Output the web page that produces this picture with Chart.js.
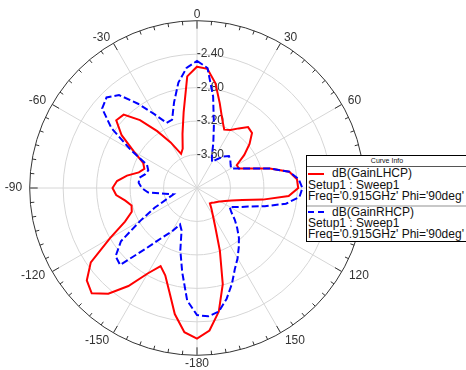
<!DOCTYPE html>
<html>
<head>
<meta charset="utf-8">
<script src="https://cdn.jsdelivr.net/npm/chart.js@4/dist/chart.umd.min.js"></script>
<style>
  html, body { margin: 0; padding: 0; background: #fff; width: 466px; height: 370px; overflow: hidden; }
  #wrap { position: absolute; left: 0; top: 0; width: 394px; height: 370px; }
  #info {
    position: absolute; left: 306px; top: 155px; width: 175px; height: 85px;
    border: 1px solid #000; background: #fff;
    font-family: "Liberation Sans", Arial, sans-serif; color: #111;
  }
  #info .hdr { position: absolute; left: 0; top: 0; width: 160px; text-align: center; font-size: 7px; line-height: 9px; }
  #info .rule { position: absolute; left: 0; width: 100%; }
  #info .t { position: absolute; font-size: 12px; line-height: 12px; white-space: nowrap; }
  #info svg { position: absolute; }
</style>
</head>
<body>
<div id="wrap"><canvas id="c" width="394" height="370"></canvas></div>
<div id="info">
  <div class="hdr">Curve Info</div>
  <div class="rule" style="top:10px;height:1px;background:#555;"></div>
  <svg style="left:1px;top:16px" width="18" height="4"><line x1="0" y1="2" x2="16" y2="2" stroke="#ff0000" stroke-width="2"/></svg>
  <div class="t" style="left:25px;top:11px">dB(GainLHCP)</div>
  <div class="t" style="left:1px;top:23px">Setup1 : Sweep1</div>
  <div class="t" style="left:1px;top:34px">Freq='0.915GHz' Phi='90deg'</div>
  <div class="rule" style="top:49px;height:2px;background:#c8c8c8;"></div>
  <svg style="left:1px;top:54px" width="18" height="4"><line x1="0" y1="2" x2="16" y2="2" stroke="#0000ff" stroke-width="2" stroke-dasharray="6,4"/></svg>
  <div class="t" style="left:25px;top:50px">dB(GainRHCP)</div>
  <div class="t" style="left:1px;top:61px">Setup1 : Sweep1</div>
  <div class="t" style="left:1px;top:72px">Freq='0.915GHz' Phi='90deg'</div>
</div>
<script>
// Phi angle of each sample (deg), clockwise from the top
const phiDeg = [
  0, 5, 10, 15, 20, 25, 30, 35, 40, 45, 50, 55, 60, 65, 70, 75, 80, 85,
  90, 95, 100, 105, 110, 115, 120, 125, 130, 135, 140, 145, 150, 155, 160, 165, 170, 175,
  -180, -175, -170, -165, -160, -155, -150, -145, -140, -135, -130, -125, -120, -115, -110, -105,
  -100, -95, -90, -85, -80, -75, -70, -65, -60, -55, -50, -45, -40, -35, -30, -25, -20, -15, -10, -5
];

// dB(GainLHCP)
const gainLHCP = [
  -2.55, -2.57, -2.73, -2.95, -3.12, -3.23, -3.20, -3.13, -3.05, -3.07, -3.18, -3.31, -3.45, -3.45, -3.32, -3.10, -2.88, -2.80,
  -2.79, -2.90, -3.20, -3.44, -3.56, -3.63, -3.68, -3.71, -3.73, -3.75, -3.76, -3.70, -3.62, -3.48, -3.20, -2.81, -2.50, -2.29,
  -2.20, -2.27, -2.47, -2.72, -2.89, -2.97, -2.82, -2.57, -2.35, -2.22, -2.28, -2.45, -2.80, -3.05, -3.17, -3.19,
  -3.13, -3.03, -2.99, -3.04, -3.15, -3.28, -3.33, -3.29, -3.13, -2.90, -2.74, -2.76, -2.94, -3.17, -3.37, -3.55, -3.50, -3.33, -3.08, -2.66
];

// dB(GainRHCP)
const gainRHCP = [
  -2.48, -2.56, -2.89, -3.22, -3.43, -3.58, -3.64, -3.58, -3.51, -3.46, -3.48, -3.51, -3.53, -3.45, -3.32, -3.10, -2.88, -2.78,
  -2.74, -2.77, -2.92, -3.16, -3.35, -3.46, -3.55, -3.50, -3.41, -3.32, -3.22, -3.13, -3.03, -2.93, -2.78, -2.63, -2.50, -2.46,
  -2.48, -2.65, -2.98, -3.23, -3.46, -3.52, -3.40, -3.28, -3.06, -2.70, -2.73, -2.89, -3.22, -3.44, -3.62, -3.71,
  -3.61, -3.41, -3.34, -3.30, -3.30, -3.36, -3.38, -3.34, -3.08, -2.75, -2.52, -2.47, -2.55, -2.77, -2.98, -3.14, -3.13, -2.94, -2.72, -2.56
];

// radial axis (dB)
const rMin = -4.0, rMax = -2.0, rStep = 0.4;

const FONT = '"Liberation Sans", Arial, sans-serif';
const isMajor = i => phiDeg[i] % 30 === 0;
const near = (a, b) => Math.abs(a - b) < 1e-6;

// small tick marks every 5 deg on the rim, longer every 30 deg
const rimTicks = {
  id: 'rimTicks',
  afterDraw(chart) {
    const s = chart.scales.r, c = chart.ctx, R = s.drawingArea;
    c.save();
    c.strokeStyle = '#333';
    c.lineWidth = 1;
    for (let i = 0; i < phiDeg.length; i++) {
      const len = isMajor(i) ? 8 : 4;
      const a = s.getPointPosition(i, R), b = s.getPointPosition(i, R - len);
      c.beginPath(); c.moveTo(a.x, a.y); c.lineTo(b.x, b.y); c.stroke();
    }
    c.restore();
  }
};

new Chart(document.getElementById('c'), {
  type: 'radar',
  data: {
    labels: phiDeg.map(String),
    datasets: [
      { label: 'dB(GainLHCP)', data: gainLHCP, borderColor: '#ff0000', borderWidth: 2,
        pointRadius: 0, fill: false, order: 1 },
      { label: 'dB(GainRHCP)', data: gainRHCP, borderColor: '#0000ff', borderWidth: 2,
        borderDash: [7, 3], pointRadius: 0, fill: false, order: 0 }
    ]
  },
  options: {
    responsive: false,
    animation: false,
    layout: { padding: { top: 14, bottom: 4, left: 0, right: 0 } },
    elements: { line: { tension: 0 } },
    plugins: { legend: { display: false }, tooltip: { enabled: false } },
    scales: {
      r: {
        min: rMin, max: rMax, startAngle: 0,
        ticks: {
          stepSize: rStep, showLabelBackdrop: false, backdropPadding: 0,
          color: '#333', font: { family: FONT, size: 12 },
          callback: v => (near(v, rMax) || near(v, rMin)) ? '' : '        ' + v.toFixed(2)
        },
        grid: {
          circular: true, lineWidth: 1,
          color: ctx => near(ctx.tick.value, rMax) ? '#333' : '#d6d6d6'
        },
        angleLines: {
          lineWidth: 1,
          color: ctx => isMajor(ctx.index) ? '#d6d6d6' : 'rgba(0,0,0,0)'
        },
        pointLabels: {
          // labels are centred vertically on their anchor point
          padding: ctx => 1.5 - 1.2 * Math.cos(phiDeg[ctx.index] * Math.PI / 180),
          color: '#333',
          font: { family: FONT, size: 12, lineHeight: '0px' },
          callback: (l, i) => isMajor(i) ? l : ''
        }
      }
    }
  },
  plugins: [rimTicks]
});
</script>
</body>
</html>
